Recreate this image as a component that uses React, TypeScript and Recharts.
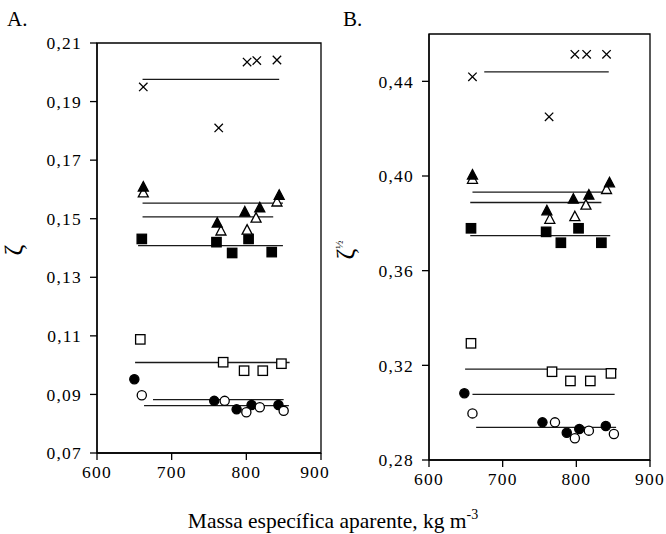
import React from "react";
import { ScatterChart, Scatter, XAxis, YAxis, ReferenceArea } from "recharts";

type Pt = { x: number; y: number };

// ---------- tick labels ----------
const xTicks = [600, 700, 800, 900];
const yTicksA = [0.07, 0.09, 0.11, 0.13, 0.15, 0.17, 0.19, 0.21];
const yTicksB = [0.28, 0.32, 0.36, 0.4, 0.44];

// ---------- panel A (zeta) ----------
const crossA: Pt[] = [
  { x: 662, y: 0.195 }, { x: 763, y: 0.181 }, { x: 801, y: 0.2035 }, { x: 814, y: 0.204 }, { x: 841, y: 0.2042 },
];
const triFilledA: Pt[] = [
  { x: 662, y: 0.1608 }, { x: 761, y: 0.1485 }, { x: 798, y: 0.1523 }, { x: 818, y: 0.1537 }, { x: 844, y: 0.158 },
];
const triOpenA: Pt[] = [
  { x: 662, y: 0.1588 }, { x: 766, y: 0.1458 }, { x: 801, y: 0.1461 }, { x: 813, y: 0.1502 }, { x: 841, y: 0.1557 },
];
const sqFilledA: Pt[] = [
  { x: 660, y: 0.1431 }, { x: 760, y: 0.142 }, { x: 781, y: 0.1383 }, { x: 803, y: 0.1431 }, { x: 834, y: 0.1386 },
];
const sqOpenA: Pt[] = [
  { x: 658, y: 0.1088 }, { x: 769, y: 0.101 }, { x: 797, y: 0.0981 }, { x: 822, y: 0.0981 }, { x: 847, y: 0.1005 },
];
const circFilledA: Pt[] = [
  { x: 650, y: 0.0952 }, { x: 757, y: 0.0878 }, { x: 787, y: 0.0849 }, { x: 807, y: 0.0864 }, { x: 843, y: 0.0864 },
];
const circOpenA: Pt[] = [
  { x: 660, y: 0.0897 }, { x: 771, y: 0.0878 }, { x: 800, y: 0.0839 }, { x: 818, y: 0.0856 }, { x: 850, y: 0.0844 },
];
// mean lines: level, start, end
const meanLevelsA = [0.1976, 0.1553, 0.1506, 0.1408, 0.1009, 0.0882, 0.0862];
const meanStartA = [661, 661, 661, 655, 651, 675, 663];
const meanEndA = [844, 849, 836, 849, 858, 850, 857];

// ---------- panel B (zeta^1/2) ----------
const crossB: Pt[] = [
  { x: 659, y: 0.4419 }, { x: 763, y: 0.425 }, { x: 798, y: 0.4514 }, { x: 814, y: 0.4514 }, { x: 841, y: 0.4514 },
];
const triFilledB: Pt[] = [
  { x: 659, y: 0.4004 }, { x: 760, y: 0.3853 }, { x: 796, y: 0.3902 }, { x: 817, y: 0.3919 }, { x: 845, y: 0.3971 },
];
const triOpenB: Pt[] = [
  { x: 659, y: 0.3986 }, { x: 764, y: 0.3817 }, { x: 798, y: 0.3828 }, { x: 813, y: 0.3877 }, { x: 841, y: 0.3943 },
];
const sqFilledB: Pt[] = [
  { x: 657, y: 0.3779 }, { x: 759, y: 0.3764 }, { x: 779, y: 0.3718 }, { x: 803, y: 0.3779 }, { x: 834, y: 0.3718 },
];
const sqOpenB: Pt[] = [
  { x: 657, y: 0.3293 }, { x: 767, y: 0.3173 }, { x: 792, y: 0.3134 }, { x: 819, y: 0.3134 }, { x: 847, y: 0.3166 },
];
const circFilledB: Pt[] = [
  { x: 648, y: 0.3082 }, { x: 754, y: 0.2959 }, { x: 787, y: 0.2915 }, { x: 804, y: 0.2931 }, { x: 840, y: 0.2944 },
];
const circOpenB: Pt[] = [
  { x: 659, y: 0.2997 }, { x: 771, y: 0.2959 }, { x: 798, y: 0.2892 }, { x: 817, y: 0.2924 }, { x: 851, y: 0.291 },
];
const meanLevelsB = [0.444, 0.3932, 0.3888, 0.3748, 0.3184, 0.3077, 0.2938];
const meanStartB = [675, 659, 656, 656, 649, 659, 664];
const meanEndB = [844, 846, 834, 846, 855, 852, 854];

const FONT = "'Liberation Serif', 'Times New Roman', serif";
const INK = "#000";

// ---------- marker shapes ----------
const CrossShape = (p: any) => {
  const { cx, cy } = p;
  const s = 4.2;
  return (
    <path
      d={`M${cx - s},${cy - s}L${cx + s},${cy + s}M${cx - s},${cy + s}L${cx + s},${cy - s}`}
      stroke={INK}
      strokeWidth={1.3}
      fill="none"
    />
  );
};
const makeTri = (filled: boolean) => (p: any) => {
  const { cx, cy } = p;
  return (
    <path
      d={`M${cx},${cy - 5.5}L${cx + 5},${cy + 4}L${cx - 5},${cy + 4}Z`}
      fill={filled ? INK : "#fff"}
      stroke={INK}
      strokeWidth={1.3}
    />
  );
};
const makeSq = (filled: boolean) => (p: any) => {
  const { cx, cy } = p;
  return (
    <rect
      x={cx - 4.7}
      y={cy - 4.7}
      width={9.4}
      height={9.4}
      fill={filled ? INK : "#fff"}
      stroke={INK}
      strokeWidth={1.3}
    />
  );
};
const makeCirc = (filled: boolean) => (p: any) => {
  const { cx, cy } = p;
  return <circle cx={cx} cy={cy} r={4.6} fill={filled ? INK : "#fff"} stroke={INK} strokeWidth={1.3} />;
};
const NoShape = () => <g />;

const fmt = (v: number) => v.toFixed(2).replace(".", ",");

const tickStyle = { fill: INK, fontSize: 17.5, fontFamily: FONT, letterSpacing: 1.2 };

type PanelProps = {
  left: number;
  width: number;
  margin: { top: number; right: number; bottom: number; left: number };
  yAxisWidth: number;
  yDomain: [number, number];
  yTicks: number[];
  series: { data: Pt[]; shape: any }[];
  levels: number[];
  starts: number[];
  ends: number[];
};

const Panel = (props: PanelProps) => {
  const { left, width, margin, yAxisWidth, yDomain, yTicks, series, levels, starts, ends } = props;
  return (
    <div style={{ position: "absolute", left, top: 0 }}>
      <ScatterChart width={width} height={534} margin={margin}>
        <XAxis
          type="number"
          dataKey="x"
          domain={[600, 900]}
          ticks={xTicks}
          tick={tickStyle}
          tickSize={7}
          tickMargin={6}
          height={30}
          axisLine={{ stroke: INK, strokeWidth: 1.3 }}
          tickLine={{ stroke: INK, strokeWidth: 1.3 }}
          allowDataOverflow
        />
        <YAxis
          type="number"
          dataKey="y"
          domain={yDomain}
          ticks={yTicks}
          tickFormatter={fmt}
          tick={tickStyle}
          tickSize={7}
          tickMargin={8}
          width={yAxisWidth}
          axisLine={{ stroke: INK, strokeWidth: 1.3 }}
          tickLine={{ stroke: INK, strokeWidth: 1.3 }}
          allowDataOverflow
        />
        <ReferenceArea
          x1={600}
          x2={900}
          y1={yDomain[0]}
          y2={yDomain[1]}
          fill="none"
          stroke={INK}
          strokeWidth={1.3}
          fillOpacity={0}
        />
        {levels.map((lv, i) => (
          <Scatter
            key={"m" + i}
            data={[
              { x: starts[i], y: lv },
              { x: ends[i], y: lv },
            ]}
            line={{ stroke: "#1a1a1a", strokeWidth: 1.3 }}
            shape={NoShape}
            isAnimationActive={false}
          />
        ))}
        {series.map((s, i) => (
          <Scatter key={"s" + i} data={s.data} shape={s.shape} isAnimationActive={false} />
        ))}
      </ScatterChart>
    </div>
  );
};

export default function App() {
  const seriesA = [
    { data: crossA, shape: CrossShape },
    { data: sqFilledA, shape: makeSq(true) },
    { data: triOpenA, shape: makeTri(false) },
    { data: triFilledA, shape: makeTri(true) },
    { data: sqOpenA, shape: makeSq(false) },
    { data: circFilledA, shape: makeCirc(true) },
    { data: circOpenA, shape: makeCirc(false) },
  ];
  const seriesB = [
    { data: crossB, shape: CrossShape },
    { data: sqFilledB, shape: makeSq(true) },
    { data: triOpenB, shape: makeTri(false) },
    { data: triFilledB, shape: makeTri(true) },
    { data: sqOpenB, shape: makeSq(false) },
    { data: circFilledB, shape: makeCirc(true) },
    { data: circOpenB, shape: makeCirc(false) },
  ];
  return (
    <div style={{ position: "absolute", left: 0, top: 0, width: 666, height: 534, background: "#fff", fontFamily: FONT }}>
      <Panel
        left={0}
        width={330}
        margin={{ top: 43, right: 9, bottom: 51, left: 0 }}
        yAxisWidth={97}
        yDomain={[0.07, 0.21]}
        yTicks={yTicksA}
        series={seriesA}
        levels={meanLevelsA}
        starts={meanStartA}
        ends={meanEndA}
      />
      <Panel
        left={330}
        width={336}
        margin={{ top: 34, right: 16, bottom: 44, left: 0 }}
        yAxisWidth={99}
        yDomain={[0.28, 0.46]}
        yTicks={yTicksB}
        series={seriesB}
        levels={meanLevelsB}
        starts={meanStartB}
        ends={meanEndB}
      />
      <svg width={666} height={534} style={{ position: "absolute", left: 0, top: 0, pointerEvents: "none" }}>
        <text x={7} y={26} fontSize={21} fontFamily={FONT} fill={INK}>A.</text>
        <text x={343} y={26} fontSize={21} fontFamily={FONT} fill={INK}>B.</text>
        <text x={22} y={250} fontSize={26} fontFamily={FONT} fill={INK} textAnchor="middle" transform="rotate(-90 22 250)">ζ</text>
        <text x={354} y={250} fontSize={26} fontFamily={FONT} fill={INK} textAnchor="middle" transform="rotate(-90 354 250)">
          ζ<tspan fontSize={11} dy={-11}>½</tspan>
        </text>
        <text x={333} y={528} fontSize={21.5} fontFamily={FONT} fill={INK} textAnchor="middle">
          Massa específica aparente, kg m<tspan fontSize={14} dy={-9}>-3</tspan>
        </text>
      </svg>
    </div>
  );
}
